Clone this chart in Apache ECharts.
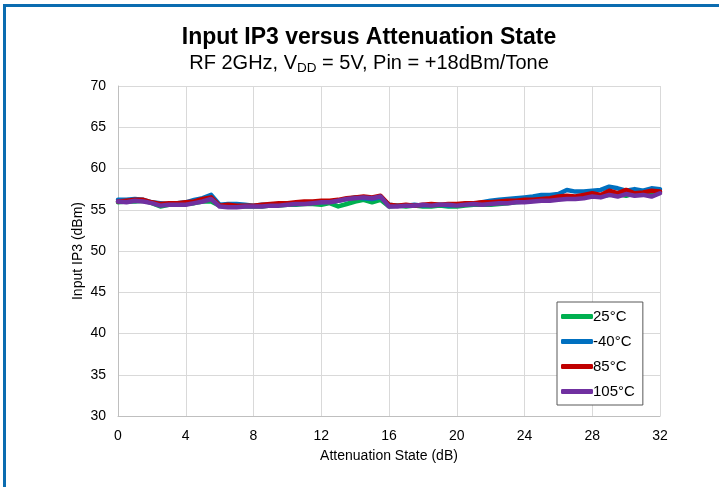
<!DOCTYPE html>
<html>
<head>
<meta charset="utf-8">
<script src="https://cdn.jsdelivr.net/npm/echarts@6/dist/echarts.min.js"></script>
<style>
html,body{margin:0;padding:0;background:#fff;}
#chart{width:719px;height:487px;}
</style>
</head>
<body>
<div id="chart"></div>
<script>
const attenuationStates = [
  0,0.5,1,1.5,2,2.5,3,3.5,
  4,4.5,5,5.5,6,6.5,7,7.5,
  8,8.5,9,9.5,10,10.5,11,11.5,
  12,12.5,13,13.5,14,14.5,15,15.5,
  16,16.5,17,17.5,18,18.5,19,19.5,
  20,20.5,21,21.5,22,22.5,23,23.5,
  24,24.5,25,25.5,26,26.5,27,27.5,
  28,28.5,29,29.5,30,30.5,31,31.5,
  32
];
const seriesNames = ['25°C', '-40°C', '85°C', '105°C'];
const ip3_25C = [
  55.9,56.0,56.0,56.1,55.8,55.4,55.6,55.6,
  55.7,55.8,56.0,56.0,55.5,55.4,55.4,55.4,
  55.4,55.4,55.5,55.5,55.6,55.6,55.7,55.7,
  55.6,55.8,55.4,55.7,56.0,56.2,55.9,56.2,
  55.4,55.5,55.4,55.5,55.4,55.4,55.5,55.4,
  55.4,55.5,55.6,55.6,55.6,55.7,55.8,55.9,
  56.0,56.1,56.2,56.3,56.3,56.4,56.5,56.6,
  56.7,56.6,56.8,56.9,56.7,57.0,57.0,56.9,
  57.1
];
const ip3_m40C = [
  56.2,56.2,56.3,56.2,55.9,55.8,55.7,55.8,
  55.9,56.2,56.4,56.8,55.6,55.7,55.7,55.6,
  55.5,55.6,55.6,55.7,55.8,55.7,55.8,55.9,
  55.9,56.0,56.1,56.3,56.5,56.4,56.3,56.5,
  55.6,55.5,55.5,55.6,55.5,55.6,55.6,55.5,
  55.6,55.7,55.7,55.9,56.1,56.2,56.3,56.4,
  56.5,56.6,56.8,56.8,56.9,57.4,57.2,57.2,
  57.3,57.4,57.8,57.6,57.3,57.5,57.3,57.6,
  57.5
];
const ip3_85C = [
  56.0,56.1,56.2,56.2,55.9,55.7,55.8,55.8,
  55.9,56.0,56.3,56.5,55.5,55.6,55.5,55.5,
  55.5,55.6,55.7,55.8,55.8,55.9,56.0,56.0,
  56.1,56.1,56.2,56.4,56.5,56.6,56.5,56.7,
  55.6,55.5,55.6,55.5,55.6,55.7,55.6,55.7,
  55.7,55.8,55.8,55.9,55.9,56.0,56.1,56.1,
  56.2,56.2,56.3,56.4,56.6,56.7,56.6,56.8,
  57.0,56.8,57.3,57.0,57.4,57.0,57.1,57.3,
  57.2
];
const ip3_105C = [
  56.0,55.9,56.1,56.0,55.8,55.5,55.6,55.6,
  55.6,55.8,56.0,56.3,55.4,55.3,55.3,55.4,
  55.4,55.4,55.5,55.5,55.6,55.7,55.7,55.8,
  55.9,55.9,56.1,56.3,56.4,56.5,56.4,56.6,
  55.4,55.4,55.5,55.5,55.6,55.5,55.6,55.6,
  55.5,55.6,55.7,55.6,55.7,55.8,55.8,55.9,
  55.9,56.0,56.1,56.1,56.2,56.3,56.3,56.4,
  56.6,56.5,56.8,56.6,56.9,56.7,56.8,56.6,
  57.0
];
const seriesValues = [ip3_25C, ip3_m40C, ip3_85C, ip3_105C];
const seriesColors = ['#00B050', '#0070C0', '#C00000', '#7030A0'];

const chart = echarts.init(document.getElementById('chart'));
const font = '"Liberation Sans", Arial, sans-serif';

chart.setOption({
  animation: false,
  backgroundColor: '#fff',
  textStyle: { fontFamily: font },
  graphic: [
    { type: 'rect', shape: { x: 3, y: 4, width: 716, height: 3 }, style: { fill: '#0B6CB0' }, z: 100 },
    { type: 'rect', shape: { x: 3, y: 4, width: 3, height: 483 }, style: { fill: '#0B6CB0' }, z: 100 }
  ],
  title: {
    text: 'Input IP3 versus Attenuation State',
    subtext: 'RF 2GHz, V{sub|DD} = 5V, Pin = +18dBm/Tone',
    left: 364,
    textAlign: 'center',
    top: 21,
    itemGap: 3,
    textStyle: { fontFamily: font, fontSize: 23, fontWeight: 'bold', color: '#000' },
    subtextStyle: {
      fontFamily: font, fontSize: 20, color: '#000',
      rich: { sub: { fontFamily: font, fontSize: 13.5, color: '#000', verticalAlign: 'bottom', padding: [9, 0, 0, 0] } }
    }
  },
  grid: { left: 118, right: 59, top: 86, bottom: 71, containLabel: false },
  legend: {
    orient: 'vertical',
    left: 557,
    top: 302,
    width: 84,
    padding: [7, 8, 6, 4],
    itemGap: 10,
    itemWidth: 32,
    itemHeight: 5,
    icon: 'roundRect',
    backgroundColor: '#fff',
    borderColor: '#595959',
    borderWidth: 1,
    textStyle: { fontFamily: font, fontSize: 15, color: '#000', padding: [0, 0, 0, -5] },
    data: seriesNames
  },
  xAxis: {
    type: 'value',
    min: 0, max: 32, interval: 4,
    name: 'Attenuation State (dB)',
    nameLocation: 'middle',
    nameGap: 33,
    nameMoveOverlap: false,
    nameTextStyle: { fontFamily: font, fontSize: 14, color: '#000' },
    axisLine: { show: true, lineStyle: { color: '#BFBFBF' } },
    axisTick: { show: false },
    axisLabel: { fontFamily: font, fontSize: 14, color: '#000', margin: 13 },
    splitLine: { show: true, lineStyle: { color: '#D9D9D9', width: 1 } }
  },
  yAxis: {
    type: 'value',
    min: 30, max: 70, interval: 5,
    name: 'Input IP3 (dBm)',
    nameLocation: 'middle',
    nameGap: 33,
    nameMoveOverlap: false,
    nameRotate: 90,
    nameTextStyle: { fontFamily: font, fontSize: 14, color: '#000' },
    axisLine: { show: true, lineStyle: { color: '#BFBFBF' } },
    axisTick: { show: false },
    axisLabel: { fontFamily: font, fontSize: 14, color: '#000', margin: 12 },
    splitLine: { show: true, lineStyle: { color: '#D9D9D9', width: 1 } }
  },
  series: seriesNames.map((name, k) => ({
    name: name,
    type: 'line',
    showSymbol: false,
    symbol: 'none',
    color: seriesColors[k],
    lineStyle: { width: 4.5, color: seriesColors[k], cap: 'round', join: 'round' },
    data: attenuationStates.map((x, i) => [x, seriesValues[k][i]])
  }))
});
</script>
</body>
</html>
